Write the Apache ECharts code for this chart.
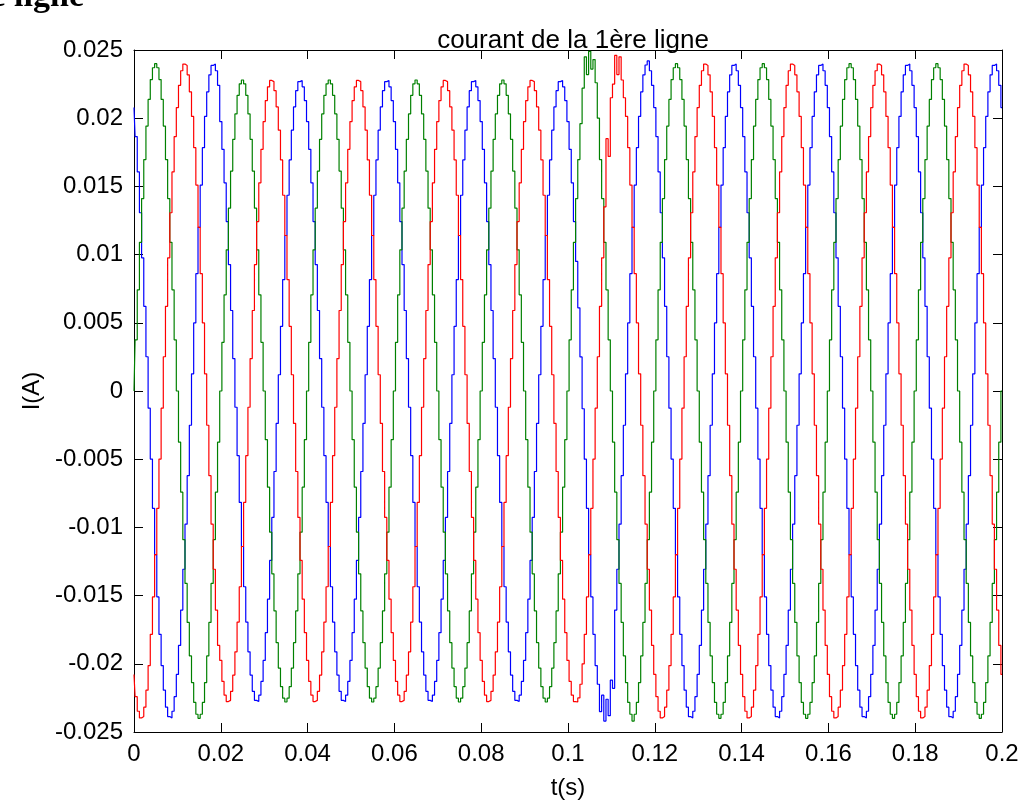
<!DOCTYPE html>
<html>
<head>
<meta charset="utf-8">
<script src="https://cdn.jsdelivr.net/npm/echarts@6/dist/echarts.min.js"></script>
<style>
html,body{margin:0;padding:0;background:#fff;}
#chart{width:1028px;height:805px;}
</style>
</head>
<body>
<div id="chart"></div>
<script>
// ---- data (A), one sample every 0.5 ms from t = 0 to t = 0.2 s ----
const sampleStep = 0.0005;
const xTickLabels = ['0','0.02','0.04','0.06','0.08','0.1','0.12','0.14','0.16','0.18','0.2'];
const yTickLabels = ['-0.025','-0.02','-0.015','-0.01','-0.005','0','0.005','0.01','0.015','0.02','0.025'];

const phaseBlue = [
.02078,.01865,.01606,.01307,.00976,.00621,.00251,-.00126,-.00499,-.0086,-.012,-.0151,-.01784,-.02013,-.02193,-.02318,-.02387,-.02397,-.02348,-.02241,-.02078,-.01865,-.01606,-.01307,-.00976,-.00621,-.00251,.00126,.00499,.0086,.012,.0151,.01784,.02013,.02193,.02318,.02387,.02397,.02348,.02241,
.01975,.01772,.01526,.01242,.00927,.0059,.00238,-.00119,-.00474,-.00817,-.0114,-.01435,-.01694,-.01912,-.02083,-.02202,-.02268,-.02277,-.0223,-.02129,-.01975,-.01772,-.01526,-.01242,-.00927,-.0059,-.00238,.00119,.00474,.00817,.0114,.01435,.01694,.01912,.02083,.02202,.02268,.02277,.0223,.02129,
.01975,.01772,.01526,.01242,.00927,.0059,.00238,-.00119,-.00474,-.00817,-.0114,-.01435,-.01694,-.01912,-.02083,-.02202,-.02268,-.02277,-.0223,-.02129,-.01975,-.01772,-.01526,-.01242,-.00927,-.0059,-.00238,.00119,.00474,.00817,.0114,.01435,.01694,.01912,.02083,.02202,.02268,.02277,.0223,.02129,
.01975,.01772,.01526,.01242,.00927,.0059,.00238,-.00119,-.00474,-.00817,-.0114,-.01435,-.01694,-.01912,-.02083,-.02202,-.02268,-.02277,-.0223,-.02129,-.01975,-.01772,-.01526,-.01242,-.00927,-.0059,-.00238,.00119,.00474,.00817,.0114,.01435,.01694,.01912,.02083,.02202,.02268,.02277,.0223,.02129,
.01975,.01772,.01526,.01242,.00927,.0059,.00238,-.00119,-.00474,-.00817,-.0114,-.01435,-.01694,-.01912,-.02083,-.02202,-.02268,-.02277,-.0223,-.02129,-.01975,-.01772,-.01526,-.01242,-.00927,-.0059,-.00238,.00119,.00474,.00817,.0114,.01435,.01694,.01912,.02083,.02202,.02268,.02277,.0223,.02129,
.01975,.01772,.01526,.01242,.0095,.0061,.0025,-.0013,-.005,-.0086,-.012,-.0151,-.01784,-.02013,-.0215,-.0235,-.0223,-.0242,-.0226,-.0238,-.0212,-.0218,-.01606,-.01307,-.00976,-.00621,-.00251,.00126,.00499,.0086,.012,.0151,.01784,.02013,.02193,.02318,.0239,.0242,.02348,.02241,
.02078,.01865,.01606,.01307,.00976,.00621,.00251,-.00126,-.00499,-.0086,-.012,-.0151,-.01784,-.02013,-.02193,-.02318,-.02387,-.02397,-.02348,-.02241,-.02078,-.01865,-.01606,-.01307,-.00976,-.00621,-.00251,.00126,.00499,.0086,.012,.0151,.01784,.02013,.02193,.02318,.02387,.02397,.02348,.02241,
.02078,.01865,.01606,.01307,.00976,.00621,.00251,-.00126,-.00499,-.0086,-.012,-.0151,-.01784,-.02013,-.02193,-.02318,-.02387,-.02397,-.02348,-.02241,-.02078,-.01865,-.01606,-.01307,-.00976,-.00621,-.00251,.00126,.00499,.0086,.012,.0151,.01784,.02013,.02193,.02318,.02387,.02397,.02348,.02241,
.02078,.01865,.01606,.01307,.00976,.00621,.00251,-.00126,-.00499,-.0086,-.012,-.0151,-.01784,-.02013,-.02193,-.02318,-.02387,-.02397,-.02348,-.02241,-.02078,-.01865,-.01606,-.01307,-.00976,-.00621,-.00251,.00126,.00499,.0086,.012,.0151,.01784,.02013,.02193,.02318,.02387,.02397,.02348,.02241,
.02078,.01865,.01606,.01307,.00976,.00621,.00251,-.00126,-.00499,-.0086,-.012,-.0151,-.01784,-.02013,-.02193,-.02318,-.02387,-.02397,-.02348,-.02241,-.02078,-.01865,-.01606,-.01307,-.00976,-.00621,-.00251,.00126,.00499,.0086,.012,.0151,.01784,.02013,.02193,.02318,.02387,.02397,.02348,.02241,
.02078
];

const phaseGreen = [
0,.00375,.00742,.0109,.01411,.01697,.01942,.02138,.02283,.0237,.024,.0237,.02283,.02138,.01942,.01697,.01411,.0109,.00742,.00375,0,-.00375,-.00742,-.0109,-.01411,-.01697,-.01942,-.02138,-.02283,-.0237,-.024,-.0237,-.02283,-.02138,-.01942,-.01697,-.01411,-.0109,-.00742,-.00375,
0,.00357,.00705,.01035,.0134,.01612,.01845,.02031,.02168,.02252,.0228,.02252,.02168,.02031,.01845,.01612,.0134,.01035,.00705,.00357,0,-.00357,-.00705,-.01035,-.0134,-.01612,-.01845,-.02031,-.02168,-.02252,-.0228,-.02252,-.02168,-.02031,-.01845,-.01612,-.0134,-.01035,-.00705,-.00357,
0,.00357,.00705,.01035,.0134,.01612,.01845,.02031,.02168,.02252,.0228,.02252,.02168,.02031,.01845,.01612,.0134,.01035,.00705,.00357,0,-.00357,-.00705,-.01035,-.0134,-.01612,-.01845,-.02031,-.02168,-.02252,-.0228,-.02252,-.02168,-.02031,-.01845,-.01612,-.0134,-.01035,-.00705,-.00357,
0,.00357,.00705,.01035,.0134,.01612,.01845,.02031,.02168,.02252,.0228,.02252,.02168,.02031,.01845,.01612,.0134,.01035,.00705,.00357,0,-.00357,-.00705,-.01035,-.0134,-.01612,-.01845,-.02031,-.02168,-.02252,-.0228,-.02252,-.02168,-.02031,-.01845,-.01612,-.0134,-.01035,-.00705,-.00357,
0,.00357,.00705,.01035,.0134,.01612,.01845,.02031,.02168,.02252,.0228,.02252,.02168,.02031,.01845,.01612,.0134,.01035,.00705,.00357,0,-.00357,-.00705,-.01035,-.0134,-.01612,-.01845,-.02031,-.02168,-.02252,-.0228,-.02252,-.02168,-.02031,-.01845,-.01612,-.0134,-.01035,-.00705,-.00357,
0,.00375,.00742,.0109,.01411,.01697,.0196,.0222,.0245,.0232,.0249,.0236,.0243,.0226,.02,.01697,.01411,.0109,.00742,.00375,0,-.00375,-.00742,-.0109,-.01411,-.01697,-.01942,-.02138,-.02283,-.0237,-.0242,-.0237,-.02283,-.02138,-.01942,-.01697,-.01411,-.0109,-.00742,-.00375,
0,.00375,.00742,.0109,.01411,.01697,.01942,.02138,.02283,.0237,.024,.0237,.02283,.02138,.01942,.01697,.01411,.0109,.00742,.00375,0,-.00375,-.00742,-.0109,-.01411,-.01697,-.01942,-.02138,-.02283,-.0237,-.024,-.0237,-.02283,-.02138,-.01942,-.01697,-.01411,-.0109,-.00742,-.00375,
0,.00375,.00742,.0109,.01411,.01697,.01942,.02138,.02283,.0237,.024,.0237,.02283,.02138,.01942,.01697,.01411,.0109,.00742,.00375,0,-.00375,-.00742,-.0109,-.01411,-.01697,-.01942,-.02138,-.02283,-.0237,-.024,-.0237,-.02283,-.02138,-.01942,-.01697,-.01411,-.0109,-.00742,-.00375,
0,.00375,.00742,.0109,.01411,.01697,.01942,.02138,.02283,.0237,.024,.0237,.02283,.02138,.01942,.01697,.01411,.0109,.00742,.00375,0,-.00375,-.00742,-.0109,-.01411,-.01697,-.01942,-.02138,-.02283,-.0237,-.024,-.0237,-.02283,-.02138,-.01942,-.01697,-.01411,-.0109,-.00742,-.00375,
0,.00375,.00742,.0109,.01411,.01697,.01942,.02138,.02283,.0237,.024,.0237,.02283,.02138,.01942,.01697,.01411,.0109,.00742,.00375,0,-.00375,-.00742,-.0109,-.01411,-.01697,-.01942,-.02138,-.02283,-.0237,-.024,-.0237,-.02283,-.02138,-.01942,-.01697,-.01411,-.0109,-.00742,-.00375,
0
];

const phaseRed = [
-.02078,-.02241,-.02348,-.02397,-.02387,-.02318,-.02193,-.02013,-.01784,-.0151,-.012,-.0086,-.00499,-.00126,.00251,.00621,.00976,.01307,.01606,.01865,.02078,.02241,.02348,.02397,.02387,.02318,.02193,.02013,.01784,.0151,.012,.0086,.00499,.00126,-.00251,-.00621,-.00976,-.01307,-.01606,-.01865,
-.01975,-.02129,-.0223,-.02277,-.02268,-.02202,-.02083,-.01912,-.01694,-.01435,-.0114,-.00817,-.00474,-.00119,.00238,.0059,.00927,.01242,.01526,.01772,.01975,.02129,.0223,.02277,.02268,.02202,.02083,.01912,.01694,.01435,.0114,.00817,.00474,.00119,-.00238,-.0059,-.00927,-.01242,-.01526,-.01772,
-.01975,-.02129,-.0223,-.02277,-.02268,-.02202,-.02083,-.01912,-.01694,-.01435,-.0114,-.00817,-.00474,-.00119,.00238,.0059,.00927,.01242,.01526,.01772,.01975,.02129,.0223,.02277,.02268,.02202,.02083,.01912,.01694,.01435,.0114,.00817,.00474,.00119,-.00238,-.0059,-.00927,-.01242,-.01526,-.01772,
-.01975,-.02129,-.0223,-.02277,-.02268,-.02202,-.02083,-.01912,-.01694,-.01435,-.0114,-.00817,-.00474,-.00119,.00238,.0059,.00927,.01242,.01526,.01772,.01975,.02129,.0223,.02277,.02268,.02202,.02083,.01912,.01694,.01435,.0114,.00817,.00474,.00119,-.00238,-.0059,-.00927,-.01242,-.01526,-.01772,
-.01975,-.02129,-.0223,-.02277,-.02268,-.02202,-.02083,-.01912,-.01694,-.01435,-.0114,-.00817,-.00474,-.00119,.00238,.0059,.00927,.01242,.01526,.01772,.01975,.02129,.0223,.02277,.02268,.02202,.02083,.01912,.01694,.01435,.0114,.00817,.00474,.00119,-.00238,-.0059,-.00927,-.01242,-.01526,-.01772,
-.01975,-.02129,-.0223,-.02277,-.0228,-.0225,-.0215,-.02,-.01784,-.0151,-.012,-.0086,-.00499,-.00126,.00251,.00621,.00976,.0135,.0185,.0172,.0215,.0225,.0246,.0232,.0245,.0228,.0215,.02013,.01784,.0151,.012,.0086,.00499,.00126,-.00251,-.00621,-.00976,-.01307,-.01606,-.01865,
-.02078,-.02241,-.02348,-.02397,-.02387,-.02318,-.02193,-.02013,-.01784,-.0151,-.012,-.0086,-.00499,-.00126,.00251,.00621,.00976,.01307,.01606,.01865,.02078,.02241,.02348,.02397,.02387,.02318,.02193,.02013,.01784,.0151,.012,.0086,.00499,.00126,-.00251,-.00621,-.00976,-.01307,-.01606,-.01865,
-.02078,-.02241,-.02348,-.02397,-.02387,-.02318,-.02193,-.02013,-.01784,-.0151,-.012,-.0086,-.00499,-.00126,.00251,.00621,.00976,.01307,.01606,.01865,.02078,.02241,.02348,.02397,.02387,.02318,.02193,.02013,.01784,.0151,.012,.0086,.00499,.00126,-.00251,-.00621,-.00976,-.01307,-.01606,-.01865,
-.02078,-.02241,-.02348,-.02397,-.02387,-.02318,-.02193,-.02013,-.01784,-.0151,-.012,-.0086,-.00499,-.00126,.00251,.00621,.00976,.01307,.01606,.01865,.02078,.02241,.02348,.02397,.02387,.02318,.02193,.02013,.01784,.0151,.012,.0086,.00499,.00126,-.00251,-.00621,-.00976,-.01307,-.01606,-.01865,
-.02078,-.02241,-.02348,-.02397,-.02387,-.02318,-.02193,-.02013,-.01784,-.0151,-.012,-.0086,-.00499,-.00126,.00251,.00621,.00976,.01307,.01606,.01865,.02078,.02241,.02348,.02397,.02387,.02318,.02193,.02013,.01784,.0151,.012,.0086,.00499,.00126,-.00251,-.00621,-.00976,-.01307,-.01606,-.01865,
-.02078
];

const titleText = 'courant de la 1ère ligne';
const xName = 't(s)';
const yName = 'I(A)';

// ---- chart ----
function pairs(values) {
  return values.map((v, i) => [i * sampleStep, v]);
}
const FONT = '"Liberation Sans", Arial, Helvetica, sans-serif';
const chart = echarts.init(document.getElementById('chart'), null, {renderer: 'canvas'});

const axisCommon = {
  axisLine: {show: true, onZero: false, lineStyle: {color: '#000', width: 1}},
  axisTick: {show: true, inside: true, length: 9, lineStyle: {color: '#000', width: 1}},
  splitLine: {show: false}
};

function lineSeries(name, values, color) {
  return {
    name: name, type: 'line', data: pairs(values), step: 'middle',
    showSymbol: false, symbol: 'none', animation: false,
    lineStyle: {color: color, width: 1.2}, itemStyle: {color: color},
    emphasis: {disabled: true}
  };
}

chart.setOption({
  backgroundColor: '#ffffff',
  animation: false,
  title: {
    text: titleText, left: 568, top: 23, textAlign: 'center',
    textStyle: {fontFamily: FONT, fontSize: 26, fontWeight: 'normal', color: '#000'}
  },
  grid: {left: 134, right: 26, top: 50, bottom: 73, containLabel: false},
  xAxis: [
    Object.assign({}, axisCommon, {
      type: 'value', min: 0, max: 0.2, interval: 0.02, position: 'bottom',
      name: xName, nameLocation: 'middle', nameGap: 44,
      nameTextStyle: {fontFamily: FONT, fontSize: 24, color: '#000'},
      axisLabel: {show: true, margin: 10, color: '#000', fontFamily: FONT, fontSize: 24,
        showMinLabel: true, showMaxLabel: true,
        formatter: v => xTickLabels[Math.round(v / 0.02)]}
    }),
    Object.assign({}, axisCommon, {
      type: 'value', min: 0, max: 0.2, interval: 0.02, position: 'top',
      axisLabel: {show: false}
    })
  ],
  yAxis: [
    Object.assign({}, axisCommon, {
      type: 'value', min: -0.025, max: 0.025, interval: 0.005, position: 'left',
      name: yName, nameLocation: 'middle', nameGap: 88, nameRotate: 90,
      nameTextStyle: {fontFamily: FONT, fontSize: 24, color: '#000'},
      axisLabel: {show: true, margin: 11, color: '#000', fontFamily: FONT, fontSize: 24,
        showMinLabel: true, showMaxLabel: true,
        formatter: v => yTickLabels[Math.round((v + 0.025) / 0.005)]}
    }),
    Object.assign({}, axisCommon, {
      type: 'value', min: -0.025, max: 0.025, interval: 0.005, position: 'right',
      axisLabel: {show: false}
    })
  ],
  graphic: [{
    type: 'text', x: 84, y: -20,
    style: {text: titleText, font: 'bold 34px "Liberation Serif", "Times New Roman", serif',
      fill: '#000', textAlign: 'right', textVerticalAlign: 'top'}
  }],
  series: [
    lineSeries('phase 1', phaseBlue, '#0000ff'),
    lineSeries('phase 2', phaseGreen, '#008000'),
    lineSeries('phase 3', phaseRed, '#ff0000')
  ]
});
</script>
</body>
</html>
